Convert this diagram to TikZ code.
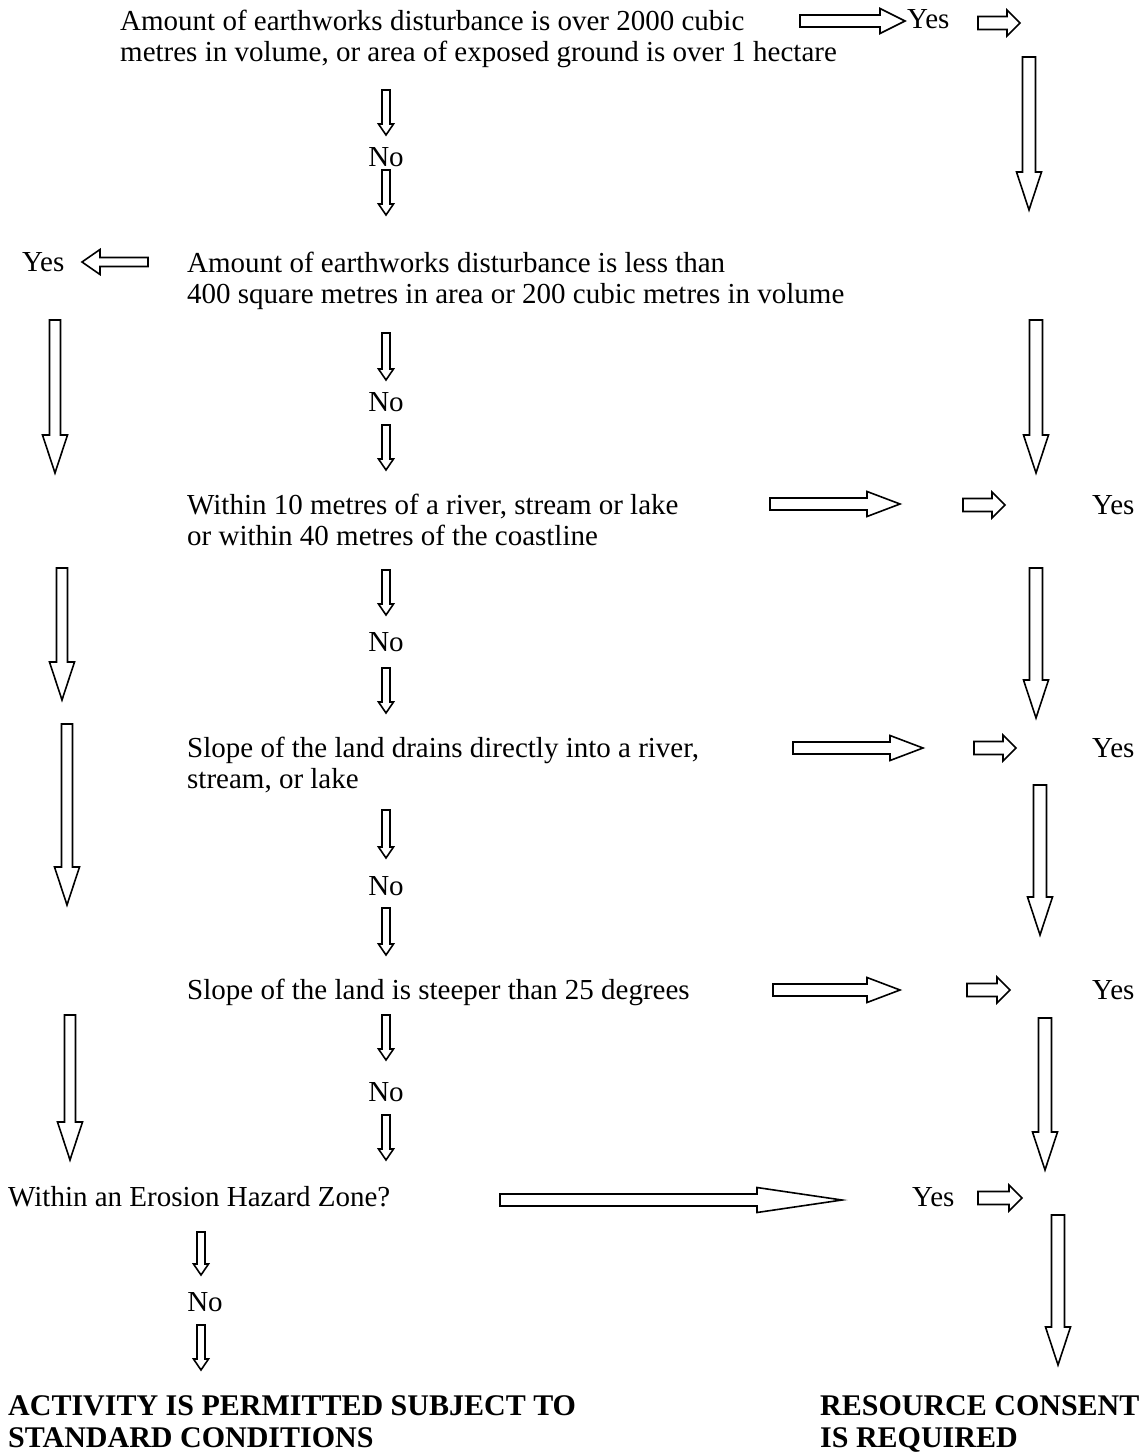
\documentclass[tikz,border=0pt]{standalone}
\usepackage{fontspec}
\setmainfont{Liberation Serif}
\usetikzlibrary{calc}
\tikzset{
  txt/.style={anchor=base west,inner sep=0pt,align=left,font=\fontsize{29}{31}\selectfont},
  ans/.style={anchor=base,inner sep=0pt,font=\fontsize{29}{31}\selectfont},
  outcome/.style={txt,font=\fontsize{30}{32}\selectfont\bfseries},
  hollow/.style={draw,line width=1.6pt,fill=white,line join=miter}
}
% block arrow: start, tip, shaft half width, head half width, head length
\newcommand{\blockarrow}[5]{%
  \coordinate (ba-h) at ($#2!#5!#1$);
  \draw[hollow] ($#1!#3!90:#2$) -- ($(ba-h)!#3!90:#2$) -- ($(ba-h)!#4!90:#2$) -- #2
    -- ($(ba-h)!#4!-90:#2$) -- ($(ba-h)!#3!-90:#2$) -- ($#1!#3!-90:#2$) -- cycle;}
\begin{document}
\begin{tikzpicture}[x=1pt,y=-1pt]
\useasboundingbox (0,0) rectangle (1145,1455);
% questions (two-line nodes sit on the baseline of their last line)
\node[txt] (q1) at (120,62) {Amount of earthworks disturbance is over 2000 cubic\\metres in volume, or area of exposed ground is over 1 hectare};
\node[txt] (q2) at (187,303) {Amount of earthworks disturbance is less than\\400 square metres in area or 200 cubic metres in volume};
\node[txt] (q3) at (187,545) {Within 10 metres of a river, stream or lake\\or within 40 metres of the coastline};
\node[txt] (q4) at (187,788) {Slope of the land drains directly into a river,\\stream, or lake};
\node[txt] (q5) at (187,999) {Slope of the land is steeper than 25 degrees};
\node[txt] (q6) at (8,1206) {Within an Erosion Hazard Zone?};
% answers
\node[txt] (yes1) at (907,29) {Yes};
\node[txt] (yes2) at (22,272) {Yes};
\node[txt] (yes3) at (1092,514) {Yes};
\node[txt] (yes4) at (1092,757) {Yes};
\node[txt] (yes5) at (1092,999) {Yes};
\node[txt] (yes6) at (912,1206) {Yes};
\node[ans] (no1) at (386,167) {No};
\node[ans] (no2) at (386,411) {No};
\node[ans] (no3) at (386,651) {No};
\node[ans] (no4) at (386,895) {No};
\node[ans] (no5) at (386,1101) {No};
\node[ans] (no6) at (205,1311) {No};
% outcomes
\node[outcome] (permit) at (8,1447) {ACTIVITY IS PERMITTED SUBJECT TO\\STANDARD CONDITIONS};
\node[outcome] (consent) at (820,1447) {RESOURCE CONSENT\\IS REQUIRED};
% small arrows through the No column
\foreach \x/\a/\b in {386/90/135, 386/170/215, 386/333/380, 386/425/470, 386/570/615,
    386/668/713, 386/810/858, 386/908/955, 386/1015/1060, 386/1115/1160, 201/1232/1275, 201/1325/1370}
  \blockarrow{(\x,\a)}{(\x,\b)}{4pt}{7.5pt}{11pt};
% left column
\foreach \x/\a/\b in {55/320/473, 62/568/700, 67/724/905, 70/1015/1160}
  \blockarrow{(\x,\a)}{(\x,\b)}{5.5pt}{12.5pt}{38pt};
% right column
\foreach \x/\a/\b in {1029/57/210, 1036/320/473, 1036/568/718, 1040/785/935, 1045/1018/1170, 1058/1215/1365}
  \blockarrow{(\x,\a)}{(\x,\b)}{6.5pt}{12.5pt}{38pt};
% long yes arrows
\blockarrow{(800,21)}{(905,21)}{6pt}{12.5pt}{25pt}
\blockarrow{(148,262)}{(82,262)}{4.5pt}{12.5pt}{18pt}
\blockarrow{(770,504)}{(900,504)}{6pt}{12.5pt}{33pt}
\blockarrow{(793,748)}{(923,748)}{6pt}{12.5pt}{33pt}
\blockarrow{(773,990)}{(900,990)}{6pt}{12.5pt}{33pt}
\blockarrow{(500,1200)}{(842,1200)}{6pt}{12.5pt}{85pt}
% short yes arrows
\foreach \a/\b/\y in {978/1020/23, 963/1005/505, 974/1016/748, 967/1010/990, 978/1022/1198}
  \blockarrow{(\a,\y)}{(\b,\y)}{6.5pt}{13pt}{13pt};
\end{tikzpicture}
\end{document}
